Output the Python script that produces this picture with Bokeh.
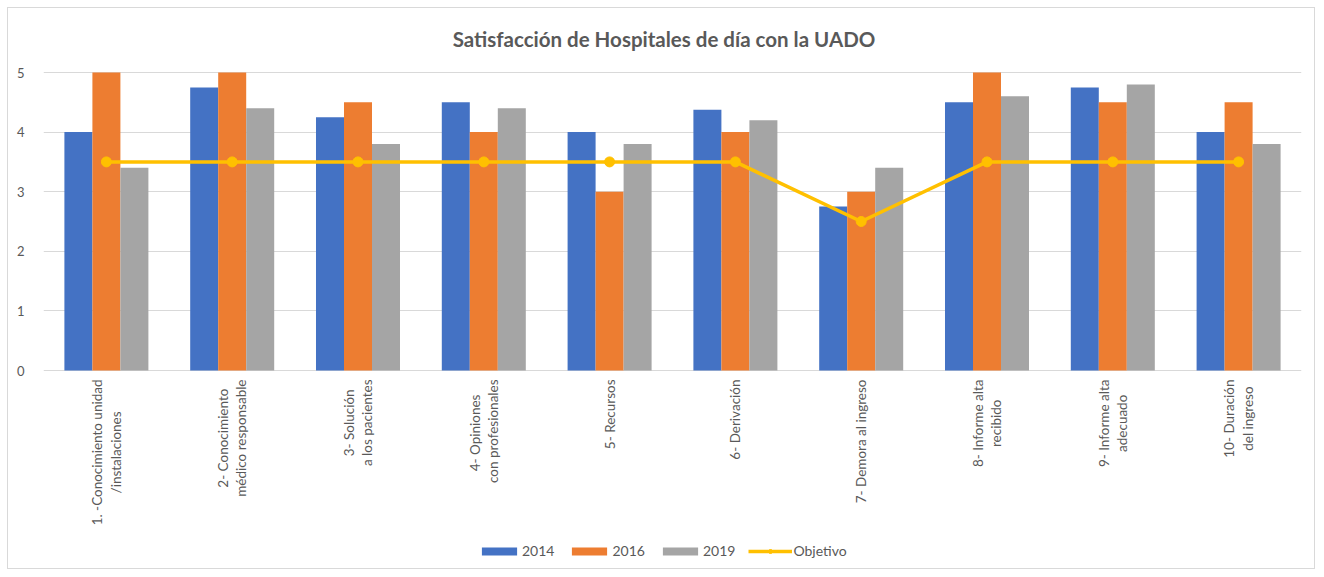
import math
from bokeh.plotting import figure
from bokeh.models import (ColumnDataSource, FactorRange, Legend, LegendItem, Range1d,
                          FixedTicker, Label)
from bokeh.core.properties import value
from bokeh.transform import dodge
from bokeh.embed import file_html
from bokeh.resources import INLINE

title_text = "Satisfacción de Hospitales de día con la UADO"
categories = [
    "1. -Conocimiento unidad\n/instalaciones",
    "2- Conocimiento\nmédico responsable",
    "3- Solución\na los pacientes",
    "4-  Opiniones\ncon profesionales",
    "5- Recursos",
    "6- Derivación",
    "7- Demora al ingreso",
    "8- Informe alta\nrecibido",
    "9- Informe alta\nadecuado",
    "10- Duración\ndel ingreso",
]
v2014 = [4.0, 4.75, 4.25, 4.5, 4.0, 4.375, 2.75, 4.5, 4.75, 4.0]
v2016 = [5.0, 5.0, 4.5, 4.0, 3.0, 4.0, 3.0, 5.0, 4.5, 4.5]
v2019 = [3.4, 4.4, 3.8, 4.4, 3.8, 4.2, 3.4, 4.6, 4.8, 3.8]
objetivo = [3.5, 3.5, 3.5, 3.5, 3.5, 3.5, 2.5, 3.5, 3.5, 3.5]

FONT = "Lato"
TXT = "#595959"
GRID = "#d9d9d9"

# layout (pixels)
W, H = 1308, 562
BL, BR = 35, 15
TOP_GAP = 64            # space between canvas top and the "5" gridline
px_per_unit = 298 / 5.0
y_end = 5 + TOP_GAP / px_per_unit
y_start = 5 - (H - TOP_GAP) / px_per_unit

src = ColumnDataSource(dict(cat=categories, a=v2014, b=v2016, c=v2019, o=objetivo))

p = figure(
    x_range=FactorRange(*categories),
    y_range=Range1d(y_start, y_end),
    width=W, height=H,
    output_backend="svg", toolbar_location=None,
    x_axis_location=None,
    min_border_left=BL, min_border_right=BR,
    min_border_top=0, min_border_bottom=0,
)
p.styles = {"border": "1px solid #d9d9d9", "margin-left": "7px", "margin-top": "7px"}
p.outline_line_color = None

bw = 0.2226
r1 = p.vbar(x=dodge("cat", -bw, range=p.x_range), top="a", width=bw, source=src,
            fill_color="#4472C4", line_color=None)
r2 = p.vbar(x=dodge("cat", 0.0, range=p.x_range), top="b", width=bw, source=src,
            fill_color="#ED7D31", line_color=None)
r3 = p.vbar(x=dodge("cat", bw, range=p.x_range), top="c", width=bw, source=src,
            fill_color="#A5A5A5", line_color=None)
r4 = p.line(x="cat", y="o", source=src, line_color="#FFC000", line_width=3.5)
r5 = p.scatter(x="cat", y="o", source=src, size=10, fill_color="#FFC000", line_color="#FFC000")

# category labels (rotated, below the zero line)
p.text(x="cat", y=0, text="cat", source=src, angle=math.pi / 2,
       anchor="center_right", text_align="center", y_offset=9,
       text_font=value(FONT), text_font_size="13.5px", text_color=TXT,
       text_line_height=1.15)

# chart title, centred on the whole chart
p.add_layout(Label(x=620.5, y=532, x_units="screen", y_units="screen", text=title_text,
                   text_align="center", text_baseline="middle",
                   text_font=FONT, text_font_size="20.5px", text_font_style="bold",
                   text_color=TXT))

p.xgrid.grid_line_color = None
p.ygrid.grid_line_color = GRID
p.ygrid.grid_line_width = 1

p.yaxis.ticker = FixedTicker(ticks=[0, 1, 2, 3, 4, 5])
p.yaxis.axis_line_color = None
p.yaxis.major_tick_line_color = None
p.yaxis.minor_tick_line_color = None
p.yaxis.major_label_text_font = FONT
p.yaxis.major_label_text_font_size = "13px"
p.yaxis.major_label_text_color = TXT
p.yaxis.major_label_standoff = 13

legend = Legend(
    items=[
        LegendItem(label="2014", renderers=[r1]),
        LegendItem(label="2016", renderers=[r2]),
        LegendItem(label="2019", renderers=[r3]),
        LegendItem(label="Objetivo", renderers=[r4, r5]),
    ],
    orientation="horizontal",
    location=(434, 11),
    glyph_width=44, glyph_height=10,
    label_standoff=1, spacing=13,
    label_text_font=FONT, label_text_font_size="14px", label_text_color=TXT,
    border_line_color=None, background_fill_alpha=0,
)
p.add_layout(legend, "center")

open("out.html", "w").write(file_html(p, INLINE))
